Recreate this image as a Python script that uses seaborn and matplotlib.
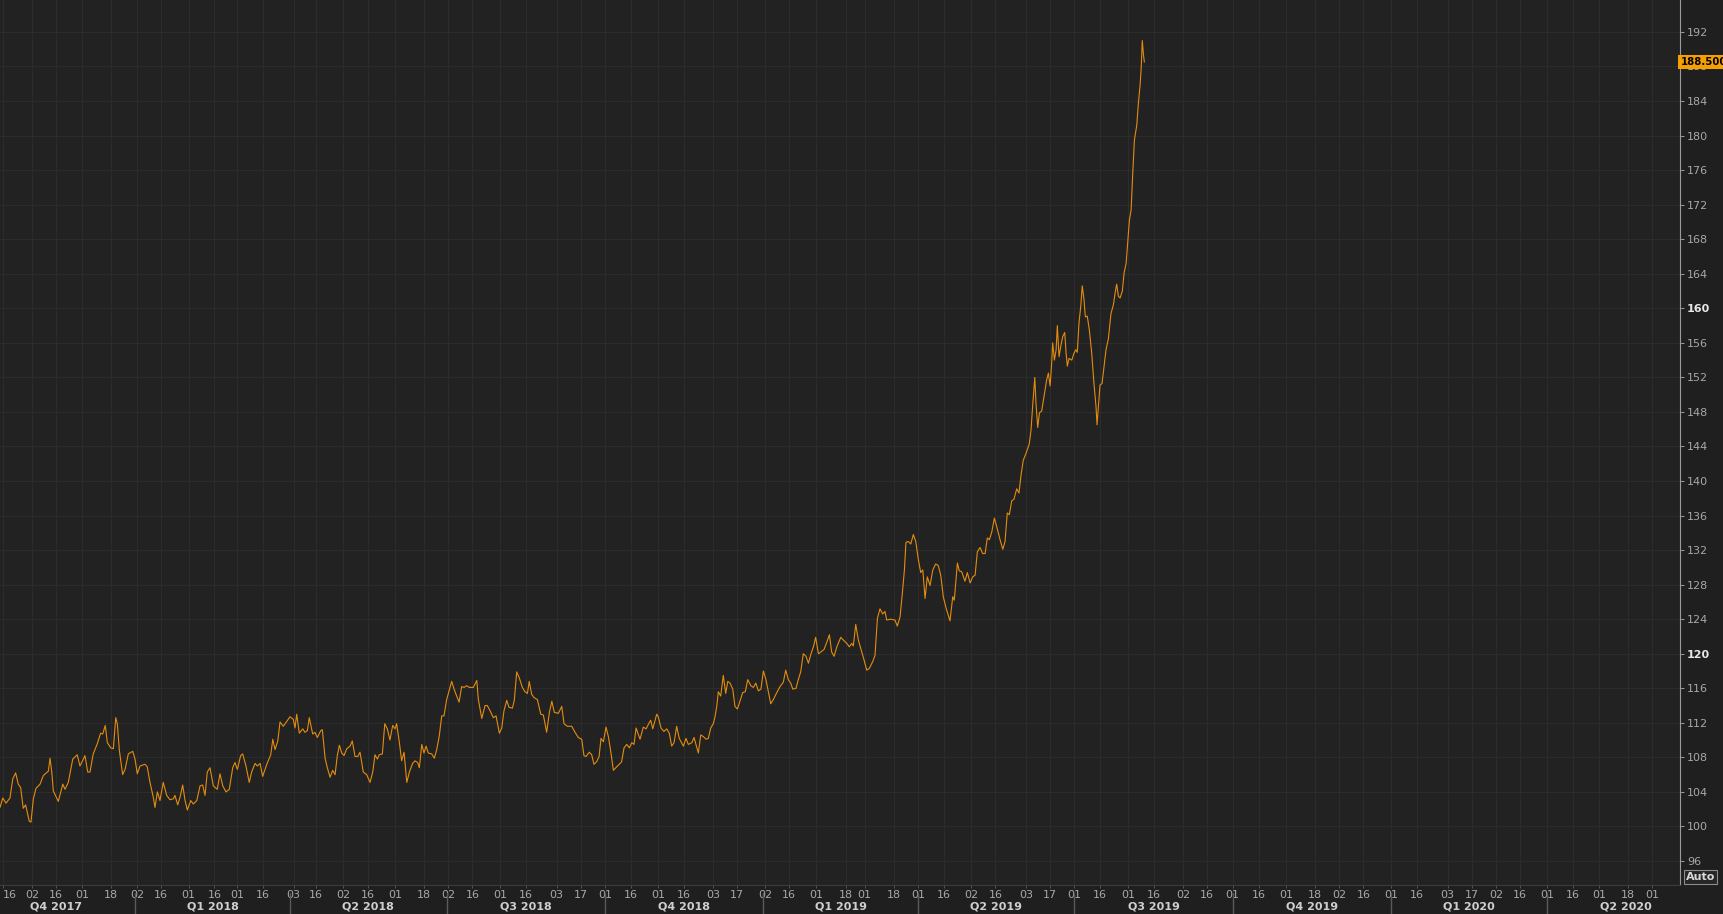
import matplotlib
matplotlib.use("Agg")
import matplotlib.pyplot as plt
import matplotlib.dates as mdates
import pandas as pd
import seaborn as sns

# price series, x = days counted from the start stamp
start = pd.Timestamp("2017-10-14 08:00")
day = [
    0.0, 1.6, 3.5, 5.8, 7.4, 9.1, 10.6, 12.0, 13.5, 14.9,
    17.0, 18.0, 19.4, 20.9, 23.3, 25.2, 28.1, 29.1, 30.1, 31.0,
    33.9, 36.5, 37.8, 39.7, 42.3, 44.9, 46.5, 49.4, 51.0, 52.3,
    54.2, 56.6, 58.5, 59.7, 61.2, 62.4, 64.4, 65.9, 67.3, 68.2,
    69.4, 71.3, 72.7, 74.6, 77.2, 78.5, 79.8, 81.4, 84.3, 85.6,
    87.2, 89.1, 90.1, 91.5, 93.0, 94.9, 96.9, 98.8, 100.8, 101.7,
    103.3, 104.7, 106.2, 107.6, 108.9, 110.9, 112.4, 114.4, 116.3, 117.8,
    119.2, 120.5, 122.1, 124.0, 126.3, 127.9, 129.5, 131.4, 133.3, 135.3,
    136.6, 138.0, 139.9, 141.1, 143.0, 144.9, 146.3, 148.3, 149.6, 151.2,
    152.7, 155.1, 157.4, 158.6, 159.9, 161.5, 162.8, 164.7, 168.6, 170.5,
    171.5, 172.5, 174.0, 176.0, 177.3, 178.7, 179.8, 181.8, 183.1, 184.5,
    186.5, 187.4, 189.0, 190.3, 191.9, 193.4, 194.8, 196.1, 197.3, 198.7,
    200.0, 201.6, 203.5, 204.8, 206.4, 208.0, 209.3, 211.2, 213.2, 215.1,
    216.7, 218.0, 219.4, 220.5, 222.3, 223.7, 225.2, 226.7, 228.3, 229.7,
    230.6, 232.2, 233.5, 234.9, 236.5, 238.0, 239.9, 241.3, 242.8, 243.8,
    245.2, 246.5, 247.7, 249.0, 251.0, 252.5, 253.9, 255.4, 256.8, 258.1,
    259.7, 261.2, 262.6, 264.0, 265.5, 266.9, 268.4, 269.8, 271.3, 272.9,
    275.2, 277.2, 278.1, 280.1, 282.0, 283.3, 284.9, 286.8, 288.4, 290.3,
    291.7, 293.0, 294.6, 295.9, 297.9, 299.0, 300.4, 301.9, 303.7, 305.2,
    306.6, 307.7, 309.1, 310.6, 312.4, 314.4, 315.9, 317.8, 319.4, 320.8,
    322.3, 324.6, 326.6, 327.9, 329.8, 332.4, 334.3, 336.2, 338.2, 339.5,
    340.7, 342.6, 344.0, 345.3, 346.9, 348.3, 349.4, 350.8, 352.3, 353.7,
    355.2, 356.6, 358.5, 360.5, 361.4, 362.8, 364.4, 365.9, 367.3, 368.6,
    369.8, 372.1, 374.0, 375.6, 376.9, 378.3, 379.5, 381.8, 382.7, 384.3,
    386.0, 387.6, 389.1, 390.5, 391.9, 393.4, 394.9, 397.3, 398.8, 400.2,
    402.2, 403.5, 406.0, 407.4, 408.9, 410.5, 411.8, 413.2, 414.7, 415.7,
    416.7, 417.6, 419.0, 420.5, 421.9, 423.1, 424.4, 426.0, 427.3, 428.7,
    430.2, 431.8, 433.3, 434.7, 436.5, 438.0, 439.4, 440.9, 442.4, 443.8,
    445.3, 446.7, 448.1, 449.6, 451.6, 453.5, 455.4, 456.8, 458.3, 459.7,
    460.9, 462.8, 464.1, 465.5, 467.0, 468.6, 470.0, 471.5, 472.9, 474.2,
    475.8, 477.2, 479.1, 480.6, 482.2, 483.5, 484.9, 486.5, 488.8, 490.7,
    492.3, 493.8, 495.2, 496.1, 497.5, 499.0, 501.0, 502.3, 503.9, 505.4,
    507.4, 508.7, 510.1, 511.6, 513.2, 514.5, 515.5, 517.8, 520.3, 521.7,
    523.3, 524.6, 525.8, 526.7, 528.1, 529.5, 531.0, 532.4, 533.9, 535.3,
    536.5, 537.8, 539.1, 540.7, 542.3, 544.0, 545.5, 546.9, 548.4, 550.0,
    552.3, 553.9, 554.8, 556.6, 557.7, 559.1, 561.0, 562.4, 564.0, 565.5,
    566.9, 568.2, 569.8, 571.3, 572.7, 574.0, 575.2, 576.6, 578.1, 579.5,
    581.4, 583.0, 584.3, 585.6, 586.8, 588.2, 589.5, 591.1, 592.4, 593.6,
    594.9, 596.5, 598.4, 599.4, 600.4, 601.6, 602.3, 603.3, 604.3, 605.6,
    607.0, 608.5, 609.5, 610.5, 611.4, 612.0, 613.0, 614.0, 614.7, 615.7,
    616.7, 617.8, 619.0, 619.8, 620.5, 621.5, 623.1, 624.4, 625.4, 626.3,
    627.3, 628.3, 629.2, 630.2, 631.0, 632.1, 633.3, 634.7, 636.0, 637.2,
    637.8, 638.6, 639.5, 640.7, 641.9, 643.0, 644.4, 645.9, 647.3, 648.4,
    649.2, 650.2, 651.2, 652.5, 653.5, 654.7, 655.4, 656.6, 657.6, 658.5,
    659.5, 660.9, 661.8, 662.8, 663.4, 664.1, 664.7, 665.3,
]
price = [
    102.2, 103.3, 102.7, 103.3, 105.5, 106.2, 104.9, 104.5, 102.1, 102.5,
    100.6, 100.5, 103.2, 104.4, 104.9, 105.9, 106.4, 107.9, 106.3, 104.1,
    102.9, 104.9, 104.3, 105.1, 107.8, 108.3, 107.0, 108.2, 106.3, 106.3,
    108.4, 109.6, 110.8, 110.7, 111.7, 109.7, 109.1, 109.0, 112.6, 111.9,
    108.8, 106.0, 106.6, 108.4, 108.7, 107.8, 106.1, 107.0, 107.2, 106.9,
    105.1, 103.4, 102.2, 104.0, 103.0, 105.1, 103.6, 103.1, 103.2, 103.6,
    102.5, 103.4, 104.8, 103.0, 101.9, 103.0, 102.6, 103.0, 104.7, 104.8,
    103.6, 106.3, 106.8, 104.7, 104.3, 106.1, 104.7, 104.0, 104.3, 106.8,
    107.4, 106.6, 108.2, 108.4, 107.0, 105.1, 106.3, 107.3, 107.0, 107.3,
    105.8, 107.2, 108.3, 110.1, 108.9, 109.9, 112.1, 111.6, 112.7, 112.4,
    111.4, 113.0, 110.8, 111.3, 110.9, 111.1, 112.6, 110.7, 110.9, 110.3,
    111.1, 111.2, 107.9, 106.8, 105.7, 106.5, 106.0, 108.2, 109.4, 108.5,
    108.2, 109.0, 109.3, 109.9, 108.1, 108.1, 108.6, 106.3, 106.0, 105.1,
    106.3, 108.3, 107.8, 108.3, 108.4, 111.9, 111.3, 110.0, 111.7, 111.3,
    111.9, 109.7, 107.6, 108.6, 105.1, 106.3, 107.3, 107.6, 107.4, 106.8,
    109.5, 108.5, 109.3, 108.5, 108.4, 107.9, 108.9, 110.5, 112.8, 112.8,
    114.7, 115.8, 116.8, 115.9, 115.1, 114.4, 116.2, 116.1, 116.3, 116.1,
    116.1, 116.9, 114.7, 112.5, 114.0, 114.0, 113.4, 112.6, 112.8, 110.8,
    111.4, 113.4, 114.6, 113.8, 113.7, 114.6, 117.9, 117.2, 116.1, 115.6,
    115.4, 116.8, 115.3, 114.9, 114.7, 113.0, 112.9, 110.9, 113.2, 114.5,
    113.2, 113.1, 113.9, 111.9, 111.6, 111.6, 110.9, 110.3, 110.1, 108.2,
    108.1, 108.6, 108.3, 107.2, 107.5, 108.1, 110.2, 109.8, 111.5, 110.4,
    108.5, 106.5, 106.9, 107.3, 107.5, 109.1, 109.5, 109.1, 109.7, 109.5,
    111.4, 110.1, 111.5, 111.3, 111.8, 112.3, 111.3, 113.0, 112.7, 111.4,
    111.0, 111.3, 110.8, 109.3, 109.7, 111.6, 110.2, 109.3, 110.2, 109.5,
    109.7, 110.3, 108.5, 110.6, 110.4, 110.1, 110.2, 111.4, 111.9, 112.7,
    113.9, 115.6, 115.1, 117.5, 115.4, 116.8, 116.6, 115.9, 113.9, 113.6,
    114.5, 115.5, 115.6, 117.0, 116.3, 116.1, 116.6, 115.7, 115.9, 118.0,
    117.0, 115.6, 114.2, 114.7, 115.5, 116.2, 116.7, 118.1, 117.0, 116.6,
    115.9, 116.0, 117.0, 117.9, 120.0, 119.7, 118.9, 120.0, 120.8, 121.9,
    120.0, 120.2, 120.5, 121.3, 122.2, 120.2, 119.7, 120.8, 121.9, 121.5,
    121.2, 120.8, 121.2, 120.9, 123.4, 121.6, 120.2, 119.3, 118.1, 118.3,
    119.1, 119.8, 124.1, 125.2, 124.6, 124.9, 123.9, 124.0, 123.9, 123.2,
    124.3, 127.0, 129.7, 132.9, 133.0, 132.7, 133.8, 133.0, 130.9, 129.4,
    129.7, 126.4, 128.9, 127.9, 129.7, 130.4, 130.2, 129.1, 126.6, 125.3,
    123.8, 126.6, 126.2, 130.5, 129.6, 129.5, 128.4, 129.4, 128.2, 128.9,
    129.1, 131.8, 132.3, 131.6, 131.6, 133.4, 133.2, 134.1, 135.7, 134.7,
    133.2, 132.1, 133.0, 136.3, 136.1, 137.7, 137.9, 139.1, 138.6, 140.7,
    142.4, 143.2, 144.3, 145.9, 148.8, 152.0, 149.0, 146.2, 147.9, 148.1,
    149.8, 151.7, 152.5, 151.0, 153.6, 156.0, 154.0, 155.2, 158.0, 154.4,
    155.6, 156.7, 157.2, 154.8, 153.3, 154.2, 154.0, 154.8, 155.2, 154.9,
    158.3, 160.2, 162.6, 161.0, 159.0, 159.1, 157.5, 154.8, 151.3, 148.6,
    146.5, 148.6, 151.1, 151.3, 153.3, 155.2, 156.5, 159.4, 160.4, 161.9,
    162.8, 161.4, 161.2, 162.0, 164.1, 165.2, 167.1, 170.2, 171.4, 175.4,
    179.5, 181.2, 183.7, 185.8, 187.6, 191.0, 189.5, 188.5,
]
last_price = 188.5

# date ticks (first trading day of the month and mid month)
tick_dates = [
    "2017-10-16", "2017-11-02", "2017-11-16", "2017-12-01", "2017-12-18",
    "2018-01-02", "2018-01-16", "2018-02-01", "2018-02-16", "2018-03-01", "2018-03-16",
    "2018-04-03", "2018-04-16", "2018-05-02", "2018-05-16", "2018-06-01", "2018-06-18",
    "2018-07-02", "2018-07-16", "2018-08-01", "2018-08-16", "2018-09-03", "2018-09-17",
    "2018-10-01", "2018-10-16", "2018-11-01", "2018-11-16", "2018-12-03", "2018-12-17",
    "2019-01-02", "2019-01-16", "2019-02-01", "2019-02-18", "2019-03-01", "2019-03-18",
    "2019-04-01", "2019-04-16", "2019-05-02", "2019-05-16", "2019-06-03", "2019-06-17",
    "2019-07-01", "2019-07-16", "2019-08-01", "2019-08-16", "2019-09-02", "2019-09-16",
    "2019-10-01", "2019-10-16", "2019-11-01", "2019-11-18", "2019-12-02", "2019-12-16",
    "2020-01-01", "2020-01-16", "2020-02-03", "2020-02-17", "2020-03-02", "2020-03-16",
    "2020-04-01", "2020-04-16", "2020-05-01", "2020-05-18", "2020-06-01",
]
quarters = pd.period_range("2017Q4", "2020Q2", freq="Q")
y_ticks = list(range(96, 193, 4))
bold_ticks = [120, 160]

bg = "#222222"
fig_bg = "#1f1f1f"
grid_c = "#2d2d2d"
text_c = "#a8a8a8"
line_c = "#e48c0e"

sns.set_theme(style="dark")
plt.rcParams["font.family"] = ["DejaVu Sans"]

df = pd.DataFrame({"date": start + pd.to_timedelta(day, unit="D"), "price": price})

fig = plt.figure(figsize=(17.24, 9.14), dpi=100, facecolor=fig_bg)
ax = fig.add_axes([0, 29 / 914, 1680 / 1724, 885 / 914])
ax.set_facecolor(bg)

sns.lineplot(data=df, x="date", y="price", ax=ax, color=line_c,
             linewidth=0.8, estimator=None, sort=False)

ax.set_xlim(start, pd.Timestamp("2020-06-17 01:00"))
ax.set_ylim(93.22, 195.7)
ax.set_xlabel("")
ax.set_ylabel("")

ax.yaxis.tick_right()
ax.set_yticks(y_ticks, labels=[str(t) for t in y_ticks])
for lbl in ax.get_yticklabels():
    if int(lbl.get_text()) in bold_ticks:
        lbl.set_fontweight("bold")
        lbl.set_color("#e8e8e8")
    else:
        lbl.set_color(text_c)
ax.tick_params(axis="y", which="major", right=True, left=False, length=3,
               width=0.7, color="#9a9a9a", pad=2, labelsize=8)

ax.set_xticks(mdates.date2num(pd.to_datetime(tick_dates)),
              labels=[d[-2:] for d in tick_dates])
ax.tick_params(axis="x", which="major", bottom=True, length=2.5, width=0.7,
               color="#555555", labelcolor=text_c, pad=1, labelsize=8)
# first label sits at the very left edge, keep it inside the figure
ax.get_xticklabels()[0].set_horizontalalignment("left")

ax.grid(True, color=grid_c, linewidth=0.7)
ax.set_axisbelow(True)

for s in ["top", "left"]:
    ax.spines[s].set_visible(False)
ax.spines["right"].set_color("#9a9a9a")
ax.spines["right"].set_linewidth(0.8)
ax.spines["bottom"].set_color("#3c3c3c")
ax.spines["bottom"].set_linewidth(0.8)

# quarter labels and separators under the day ticks
for p in quarters:
    mid = p.start_time + (p.end_time - p.start_time) / 2
    ax.text(mdates.date2num(mid), -0.0245, f"Q{p.quarter} {p.year}",
            transform=ax.get_xaxis_transform(), ha="center", va="center",
            fontsize=8, fontweight="bold", color="#cfcfcf", clip_on=False)
for p in quarters[1:]:
    ax.axvline(mdates.date2num(p.start_time), ymin=-0.0328, ymax=-0.009,
               color="#5a5a5a", linewidth=1.0, clip_on=False)

# last value tag on the price scale
ax.text(1.0003, last_price, f"{last_price:.3f}", transform=ax.get_yaxis_transform(),
        ha="left", va="center", fontsize=7.3, fontweight="bold", color="black",
        bbox=dict(boxstyle="square,pad=0.2", fc="#f5a000", ec="none"),
        clip_on=False, zorder=5)

fig.text(1686 / 1724, 37 / 914, "Auto", ha="left", va="center", fontsize=8,
         fontweight="bold", color="#d8d8d8",
         bbox=dict(boxstyle="square,pad=0.15", fc="#262626", ec="#8c8c8c", lw=0.8))

fig.savefig("out.png", dpi=100, facecolor=fig.get_facecolor())
